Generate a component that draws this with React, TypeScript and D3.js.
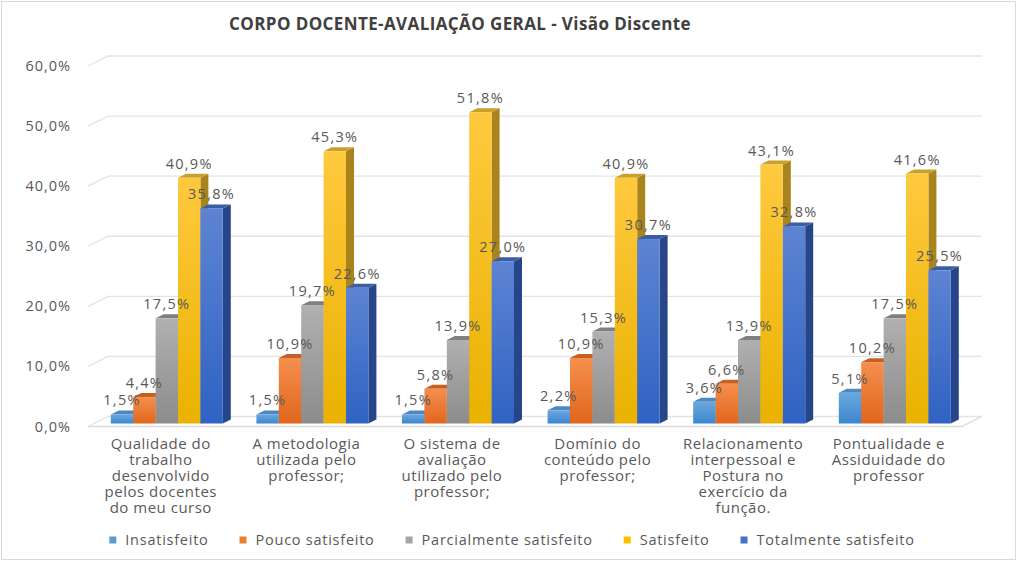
import React, { useEffect, useRef } from "react";
import * as d3 from "d3";

const title = "CORPO DOCENTE-AVALIAÇÃO GERAL - Visão Discente";
const categoryLines: string[][] = [
  ["Qualidade do", "trabalho", "desenvolvido", "pelos docentes", "do meu curso"],
  ["A metodologia", "utilizada pelo", "professor;"],
  ["O sistema de", "avaliação", "utilizado pelo", "professor;"],
  ["Domínio do", "conteúdo pelo", "professor;"],
  ["Relacionamento", "interpessoal e", "Postura no", "exercício da", "função."],
  ["Pontualidade e", "Assiduidade do", "professor"],
];
const categories = categoryLines.map((l) => l.join(" "));
const seriesNames = ["Insatisfeito", "Pouco satisfeito", "Parcialmente satisfeito", "Satisfeito", "Totalmente satisfeito"];
const insatisfeito = [1.5, 1.5, 1.5, 2.2, 3.6, 5.1];
const poucoSatisfeito = [4.4, 10.9, 5.8, 10.9, 6.6, 10.2];
const parcialmenteSatisfeito = [17.5, 19.7, 13.9, 15.3, 13.9, 17.5];
const satisfeito = [40.9, 45.3, 51.8, 40.9, 43.1, 41.6];
const totalmenteSatisfeito = [35.8, 22.6, 27.0, 30.7, 32.8, 25.5];
const seriesValues = [insatisfeito, poucoSatisfeito, parcialmenteSatisfeito, satisfeito, totalmenteSatisfeito];
const yTicks = [0, 10, 20, 30, 40, 50, 60];

// colours: [gradTop, gradBottom, top face, side face, legend]
const palette = [
  { t: "#6aa8de", b: "#3b86cf", top: "#4d88c4", side: "#3a6fa5", legend: "#5b9bd5" },
  { t: "#f58f4e", b: "#e0661c", top: "#c85f22", side: "#b0541c", legend: "#ed7d31" },
  { t: "#b0b0b0", b: "#8c8c8c", top: "#7f7f7f", side: "#6c6c6c", legend: "#a5a5a5" },
  { t: "#ffc93f", b: "#e9b200", top: "#c9a02c", side: "#a9841c", legend: "#ffc000" },
  { t: "#5d84d2", b: "#2f62c3", top: "#3a5da6", side: "#27468a", legend: "#4472c4" },
];

const W = 1018, H = 562;
const FX0 = 88, FX1 = 961.6;
const DDX = 20, DDY = -10;
const BAR_T0 = 0.3, BAR_T1 = 0.7;
const GROUP_W = 112;
const FONT = "'Open Sans', 'DejaVu Sans', sans-serif";
const TXT = "#595959";

export default function App() {
  const ref = useRef<SVGSVGElement>(null);
  useEffect(() => {
    const svg = d3.select(ref.current);
    svg.selectAll("*").remove();
    const defs = svg.append("defs");
    palette.forEach((p, i) => {
      const g = defs.append("linearGradient").attr("id", "g" + i).attr("x1", 0).attr("y1", 0).attr("x2", 0).attr("y2", 1);
      g.append("stop").attr("offset", "0%").attr("stop-color", p.t);
      g.append("stop").attr("offset", "100%").attr("stop-color", p.b);
    });

    svg.append("rect").attr("x", 0).attr("y", 0).attr("width", W).attr("height", H).attr("fill", "#fff");
    svg.append("rect").attr("x", 1.5).attr("y", 1.5).attr("width", W - 4).attr("height", H - 4)
      .attr("fill", "none").attr("stroke", "#d9d9d9").attr("stroke-width", 1);

    const x = d3.scaleBand<string>().domain(categories).range([FX0, FX1]).padding(0);
    const y = d3.scaleLinear().domain([0, 60]).range([426.5, 66]);
    const inner = d3.scaleBand<number>().domain(d3.range(seriesNames.length)).range([-GROUP_W / 2, GROUP_W / 2]).padding(0);

    // gridlines (side wall + back wall)
    const grid = svg.append("g").attr("stroke", "#e3e3e3").attr("stroke-width", 1.3).attr("fill", "none");
    yTicks.forEach((t) => {
      const yy = y(t);
      grid.append("path").attr("d", `M${FX0},${yy} L${FX0 + DDX},${yy + DDY} L${FX1 + DDX},${yy + DDY}`);
    });
    // floor
    const y0 = y(0);
    grid.append("path").attr("d", `M${FX0},${y0} L${FX1},${y0} L${FX1 + DDX},${y0 + DDY}`).attr("stroke", "#dadada");

    // y labels
    svg.append("g").selectAll("text").data(yTicks).join("text")
      .attr("x", 71).attr("y", (d) => y(d) + 5)
      .attr("text-anchor", "end").attr("font-family", FONT).attr("font-size", 14.5).attr("letter-spacing", 1).attr("fill", TXT)
      .text((d) => d3.format(".1f")(d).replace(".", ",") + "%");

    // bars
    const ox0 = BAR_T0 * DDX, oy0 = BAR_T0 * DDY;
    const bdx = (BAR_T1 - BAR_T0) * DDX, bdy = (BAR_T1 - BAR_T0) * DDY;
    const bars = svg.append("g");
    const labels: { x: number; y: number; t: string }[] = [];
    categories.forEach((c, ci) => {
      const cx = (x(c) as number) + x.bandwidth() / 2 + ox0;
      seriesValues.forEach((vals, si) => {
        const v = vals[ci];
        const xl = cx + (inner(si) as number);
        const xr = xl + inner.bandwidth();
        const yt = y(v) + oy0;
        const yb = y(0) + oy0;
        const p = palette[si];
        bars.append("path").attr("d", `M${xr},${yb} L${xr + bdx},${yb + bdy} L${xr + bdx},${yt + bdy} L${xr},${yt} Z`).attr("fill", p.side);
        bars.append("path").attr("d", `M${xl},${yt} L${xr},${yt} L${xr + bdx},${yt + bdy} L${xl + bdx},${yt + bdy} Z`).attr("fill", p.top);
        bars.append("rect").attr("x", xl).attr("y", yt).attr("width", xr - xl).attr("height", yb - yt).attr("fill", `url(#g${si})`);
        labels.push({ x: (xl + xr) / 2, y: yt - 9, t: d3.format(".1f")(v).replace(".", ",") + "%" });
      });
    });
    svg.append("g").selectAll("text").data(labels).join("text")
      .attr("x", (d) => d.x).attr("y", (d) => d.y).attr("text-anchor", "middle")
      .attr("font-family", FONT).attr("font-size", 14.5).attr("letter-spacing", 1.3).attr("fill", TXT).text((d) => d.t);

    // category labels
    const cat = svg.append("g").attr("font-family", FONT).attr("font-size", 15).attr("letter-spacing", 0.5).attr("fill", TXT).attr("text-anchor", "middle");
    categories.forEach((c, ci) => {
      const cx = (x(c) as number) + x.bandwidth() / 2;
      categoryLines[ci].forEach((ln, li) => {
        cat.append("text").attr("x", cx).attr("y", 449 + li * 16).text(ln);
      });
    });

    // legend
    const lg = svg.append("g").attr("font-family", FONT).attr("font-size", 14.5).attr("letter-spacing", 0.75).attr("fill", TXT);
    const items = seriesNames.map((n, i) => {
      const g = lg.append("g");
      g.append("rect").attr("x", 0).attr("y", -3.5).attr("width", 7).attr("height", 7).attr("fill", palette[i].legend);
      const t = g.append("text").attr("x", 16).attr("y", 5).text(n);
      const w = 16 + (t.node() as SVGTextElement).getComputedTextLength();
      return { g, w };
    });
    const gap = 31;
    const total = d3.sum(items, (d) => d.w) + gap * (items.length - 1);
    let cur = 512 - total / 2;
    items.forEach((it) => {
      it.g.attr("transform", `translate(${cur},540)`);
      cur += it.w + gap;
    });

    // title
    svg.append("text").attr("x", 460).attr("y", 30).attr("text-anchor", "middle")
      .attr("font-family", FONT).attr("font-size", 17).attr("letter-spacing", 0.4).attr("font-weight", "bold").attr("fill", "#404040")
      .text(title);
  }, []);
  return (
    <svg ref={ref} width={W} height={H} style={{ position: "absolute", left: 0, top: 0, display: "block" }} />
  );
}
